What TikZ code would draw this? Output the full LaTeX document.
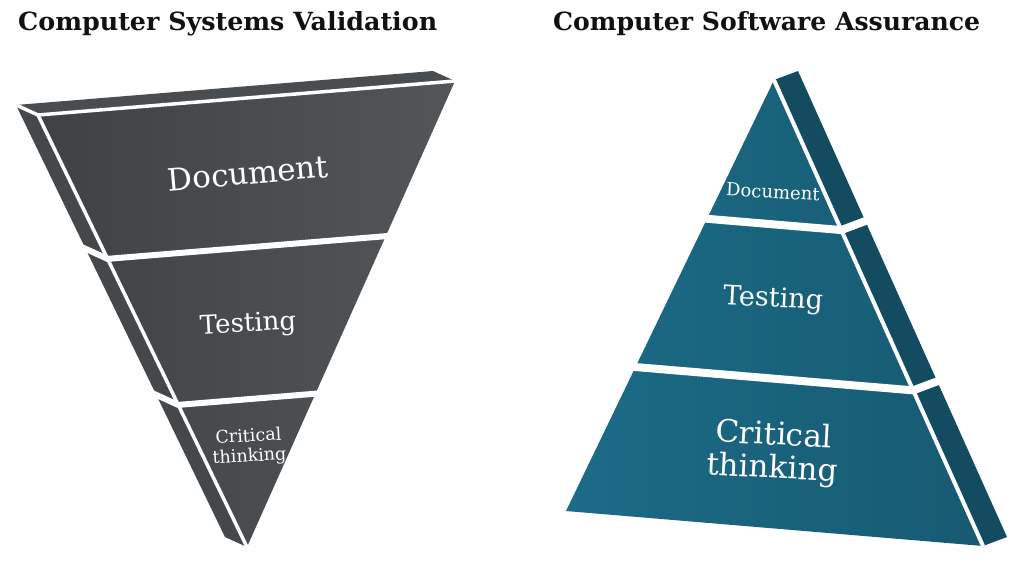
\documentclass[tikz,border=0pt]{standalone}
\usepackage{fontspec}
\setmainfont{DejaVu Serif}
\usetikzlibrary{calc}
\definecolor{csvfrontL}{HTML}{3F4245}
\definecolor{csvfrontR}{HTML}{525659}
\definecolor{csvside}{HTML}{45484B}
\definecolor{csvtop}{HTML}{4A4D50}
\definecolor{csafrontL}{HTML}{1C6B87}
\definecolor{csafrontR}{HTML}{175A72}
\definecolor{csaside}{HTML}{134C60}
\definecolor{titlecol}{HTML}{111111}
\begin{document}
\begin{tikzpicture}[x=1pt,y=-1pt,
  edgeline/.style={draw=white,line width=#1},
  lbl/.style={text=white,align=center,inner sep=0pt},
  ttl/.style={text=titlecol,anchor=base west,inner sep=0pt}]
\useasboundingbox (0,0) rectangle (1024,571);
\fill[white] (0,0) rectangle (1024,571);
% ---------------- Left: inverted pyramid ----------------
\coordinate (A) at (38,115);
\coordinate (B) at (455,81);
\coordinate (C) at (247,547);
\coordinate (dl) at (-22,-10);
\fill[csvside] (A) -- ($(A)+(dl)$) -- ($(C)+(dl)$) -- (C) -- cycle;
\fill[csvtop] (A) -- ($(A)+(dl)$) -- ($(B)+(dl)$) -- (B) -- cycle;
\shade[left color=csvfrontL,right color=csvfrontR] (A) -- (B) -- (C) -- cycle;
\draw[edgeline=3.5pt] ($(A)+(dl)$) -- (A) -- (B);
\draw[edgeline=3.5pt] (A) -- (C);
\coordinate (L1) at ($(A)!0.333!(C)$);
\coordinate (R1) at ($(B)!0.333!(C)$);
\coordinate (L2) at ($(A)!0.671!(C)$);
\coordinate (R2) at ($(B)!0.671!(C)$);
\draw[edgeline=6pt] ($(L1)+1.4*(dl)$) -- (L1) -- ($(L1)!1.04!(R1)$);
\draw[edgeline=6pt] ($(L2)+1.4*(dl)$) -- (L2) -- ($(L2)!1.06!(R2)$);
\node[lbl,rotate=5,font=\fontsize{31}{31}\selectfont] (ldoc) at (248,173) {Document};
\node[lbl,rotate=3,font=\fontsize{26}{26}\selectfont] (ltest) at (248,325) {Testing};
\node[lbl,rotate=3,font=\fontsize{17.5}{20}\selectfont] (lcrit) at (249,447) {Critical\\thinking};
% ---------------- Right: pyramid ----------------
\coordinate (P) at (774,80);
\coordinate (L) at (566,511);
\coordinate (R) at (983,546);
\coordinate (dr) at (24,-9);
\fill[csaside] (P) -- ($(P)+(dr)$) -- ($(R)+(dr)$) -- (R) -- cycle;
\shade[left color=csafrontL,right color=csafrontR] (P) -- (L) -- (R) -- cycle;
\draw[edgeline=4pt] (P) -- (R);
\coordinate (Q1) at ($(P)!0.322!(L)$);
\coordinate (S1) at ($(P)!0.322!(R)$);
\coordinate (Q2) at ($(P)!0.666!(L)$);
\coordinate (S2) at ($(P)!0.666!(R)$);
\draw[edgeline=8pt] ($(Q1)!-0.05!(S1)$) -- (S1) -- ($(S1)+1.4*(dr)$);
\draw[edgeline=8pt] ($(Q2)!-0.03!(S2)$) -- (S2) -- ($(S2)+1.4*(dr)$);
\node[lbl,rotate=-3,font=\fontsize{18}{18}\selectfont] (rdoc) at (773,192) {Document};
\node[lbl,rotate=-3,font=\fontsize{27}{27}\selectfont] (rtest) at (773,300) {Testing};
\node[lbl,rotate=-3,font=\fontsize{31}{33}\selectfont] (rcrit) at (773,453) {Critical\\thinking};
% ---------------- Titles ----------------
\node[ttl] (t1) at (18,30) {\resizebox{419pt}{19pt}{\bfseries Computer Systems Validation}};
\node[ttl] (t2) at (553,30) {\resizebox{427pt}{19pt}{\bfseries Computer Software Assurance}};
\end{tikzpicture}
\end{document}
